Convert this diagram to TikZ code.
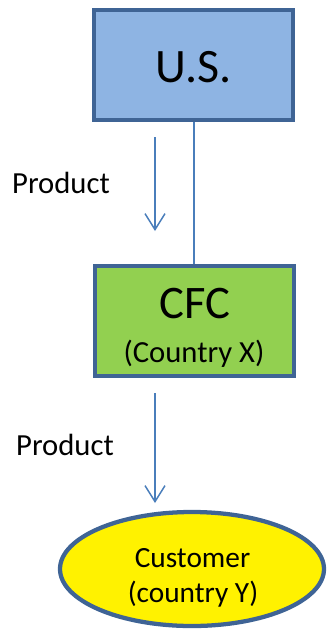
\documentclass[tikz,border=0pt]{standalone}
\usepackage{fontspec}
\setmainfont{Carlito}
\usetikzlibrary{shapes.geometric,arrows.meta}
\definecolor{boxline}{HTML}{3F6495}
\definecolor{usfill}{HTML}{8EB4E3}
\definecolor{cfcfill}{HTML}{92D050}
\definecolor{arrowblue}{HTML}{4A7EBB}
\newcommand{\fs}[1]{\fontsize{#1}{1.2\dimexpr #1pt\relax}\selectfont}
\begin{document}
\begin{tikzpicture}[x=0.75pt, y=-0.75pt,
  entity/.style={draw=boxline, line width=3.2pt, inner sep=0pt, minimum width=149.25pt, minimum height=82.5pt},
  txt/.style={anchor=base, inner sep=0pt},
  flow/.style={draw=arrowblue, line width=1.1pt, -{Straight Barb[length=12pt,width=15pt,line width=1.1pt]}},
  link/.style={draw=arrowblue, line width=0.9pt}]
  \useasboundingbox (0,0) rectangle (327,633);
  % parties
  \node[entity, fill=usfill] (us) at (193.5,65) {};
  \node[entity, fill=cfcfill] (cfc) at (194.5,321) {};
  \node[entity, ellipse, fill=yellow, minimum width=198pt, minimum height=85.5pt] (cust) at (192,569) {};
  \node[txt, font=\fs{36}] (ustxt) at (193.5,82) {U.S.};
  \node[txt, font=\fs{35}] (cfctxt) at (195,318) {CFC};
  \node[txt, font=\fs{23}] (cfcsub) at (194,362) {(Country X)};
  \node[txt, font=\fs{22}] (custtxt) at (192.5,567) {Customer};
  \node[txt, font=\fs{22}] (custsub) at (193,602) {(country Y)};
  % ownership line
  \draw[link] (us.south -| 194,0) -- (cfc.north -| 194,0);
  % product flows
  \coordinate (p1s) at (155,137);
  \coordinate (p1e) at (155,231);
  \coordinate (p2s) at (155,393);
  \coordinate (p2e) at (155,503);
  \draw[flow] (p1s) -- (p1e);
  \draw[flow] (p2s) -- (p2e);
  \node[txt, font=\fs{23}] (prod1) at (61,193) {Product};
  \node[txt, font=\fs{23}] (prod2) at (65,455) {Product};
\end{tikzpicture}
\end{document}
